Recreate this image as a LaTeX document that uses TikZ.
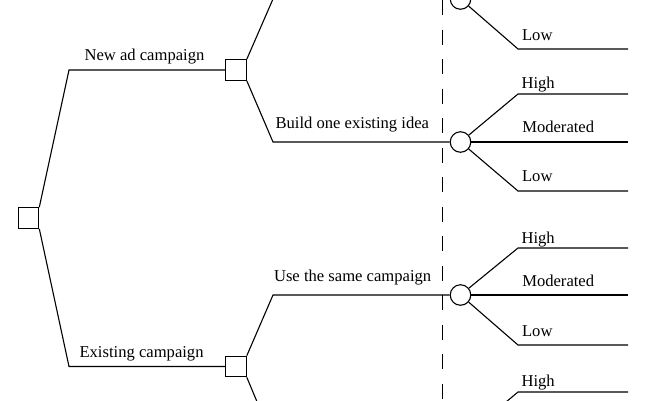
\documentclass[tikz,border=0pt]{standalone}
\usepackage{fontspec}
\setmainfont{Liberation Serif}
\begin{document}
\begin{tikzpicture}[x=1pt,y=-1pt,line width=1.1pt,
  dec/.style={draw,rectangle,minimum size=20.5pt,inner sep=0pt},
  chance/.style={draw,circle,minimum size=20.5pt,inner sep=0pt},
  lbl/.style={anchor=base west,inner sep=0pt,font=\fontsize{16.6}{20}\selectfont},
  divider/.style={line width=1.2pt,dash pattern=on 15pt off 14.5pt}]
\useasboundingbox (0,0) rectangle (650,400);
\clip (0,0) rectangle (650,400);
% decision and chance nodes
\node[dec] (root) at (28.5,218) {};
\node[dec] (d1) at (236,70) {};
\node[dec] (d2) at (236,366.5) {};
\node[chance] (c0) at (460.5,-1) {};
\node[chance] (c1) at (460.5,142) {};
\node[chance] (c2) at (460.5,295) {};
\node[chance] (c3) at (460.5,440) {};
% divider
\coordinate (v0) at (442.7,0);
\coordinate (v1) at (442.7,400);
\draw[divider] (v0) -- (v1);
% first-level branches
\coordinate (r1) at (69,70);
\coordinate (r2) at (69,366.5);
\draw (root.north east) -- (r1) -- (d1.west);
\draw (root.south east) -- (r2) -- (d2.west);
\node[lbl] (lnew) at (84,60) {New ad campaign};
\node[lbl] (lexist) at (79,357) {Existing campaign};
% second-level branches
\coordinate (a0) at (273,-1);
\coordinate (a1) at (273,142);
\coordinate (a2) at (273,295);
\coordinate (a3) at (273,440);
\draw (d1.north east) -- (a0) -- (c0.west);
\draw (d1.south east) -- (a1) -- (c1.west);
\draw (d2.north east) -- (a2) -- (c2.west);
\draw (d2.south east) -- (a3) -- (c3.west);
\node[lbl] (lbuild) at (275,128.3) {Build one existing idea};
\node[lbl] (luse) at (273.5,281.7) {Use the same campaign};
% outcomes of c0
\coordinate (c0l) at (518,49);  \coordinate (c0le) at (628,49);
\draw (c0) -- (c0l) -- (c0le);
\node[lbl] (t0l) at (521.5,40.5) {Low};
% outcomes of c1
\coordinate (c1h) at (518,94);  \coordinate (c1he) at (628,94);
\coordinate (c1me) at (628,142);
\coordinate (c1l) at (518,191); \coordinate (c1le) at (628,191);
\draw (c1) -- (c1h) -- (c1he);
\draw (c1.east) -- (c1me);
\draw (c1) -- (c1l) -- (c1le);
\node[lbl] (t1h) at (521,88.3) {High};
\node[lbl] (t1m) at (521.7,132.5) {Moderated};
\node[lbl] (t1l) at (521.5,181.7) {Low};
% outcomes of c2
\coordinate (c2h) at (518,248); \coordinate (c2he) at (628,248);
\coordinate (c2me) at (628,295);
\coordinate (c2l) at (518,345); \coordinate (c2le) at (628,345);
\draw (c2) -- (c2h) -- (c2he);
\draw (c2.east) -- (c2me);
\draw (c2) -- (c2l) -- (c2le);
\node[lbl] (t2h) at (521,243) {High};
\node[lbl] (t2m) at (521.7,286.7) {Moderated};
\node[lbl] (t2l) at (521.5,336.7) {Low};
% outcomes of c3
\coordinate (c3h) at (518,392); \coordinate (c3he) at (628,392);
\draw (c3) -- (c3h) -- (c3he);
\node[lbl] (t3h) at (521,386.5) {High};
\end{tikzpicture}
\end{document}
